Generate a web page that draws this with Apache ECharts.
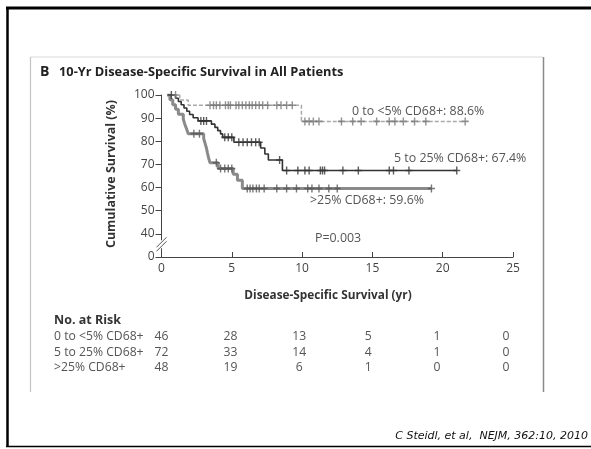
<!DOCTYPE html>
<html><head><meta charset="utf-8">
<script src="https://cdn.jsdelivr.net/npm/echarts@6/dist/echarts.min.js"></script>
<style>html,body{margin:0;padding:0;background:#fff}#c{width:591px;height:449px}</style>
</head><body><div id="c"></div>
<script>
// ---- data ----
const titleText = '10-Yr Disease-Specific Survival in All Patients';
const xTicks = [0, 5, 10, 15, 20, 25];
const yTickLabels = ['0', '40', '50', '60', '70', '80', '90', '100'];
const seriesNames = ['0 to <5% CD68+', '5 to 25% CD68+', '>25% CD68+'];
const finalLabels = ['0 to <5% CD68+: 88.6%', '5 to 25% CD68+: 67.4%', '>25% CD68+: 59.6%'];
const pValue = 'P=0.003';
// Kaplan-Meier steps [years, survival %]
const kmLow = [[0.4,100],[1.3,97.8],[1.9,95.6],[9.95,88.6],[21.6,88.6]];
const kmMid = [[0.4,100],[1.0,98.6],[1.2,97.2],[1.4,95.8],[1.6,94.4],[1.8,93.0],[2.0,91.6],[2.25,90.2],[2.6,88.8],[3.55,87.4],[3.8,86.0],[4.0,84.6],[4.2,83.2],[4.35,81.7],[5.15,79.6],[7.05,77.1],[7.35,74.5],[7.6,71.9],[8.6,67.4],[21.0,67.4]];
const kmHigh = [[0.4,100],[0.6,97.9],[0.8,95.8],[1.0,93.8],[1.2,91.7],[1.55,89.6],[1.65,87.5],[1.78,85.4],[1.9,83.3],[3.0,81.2],[3.1,79.1],[3.2,77.0],[3.27,74.9],[3.35,72.8],[3.45,70.7],[4.03,68.2],[5.1,65.8],[5.4,63.2],[5.75,59.6],[19.2,59.6]];
// censoring times (years)
const censorLow = [1.0,3.45,3.7,3.9,4.15,4.55,4.75,4.9,5.3,5.5,5.75,6.0,6.25,6.45,6.7,6.95,7.2,7.55,8.2,8.5,8.9,9.3,10.2,10.5,10.8,11.2,12.8,13.6,14.2,15.3,16.2,16.6,17.2,18.0,18.8,21.6];
const censorMid = [0.7,2.8,3.0,3.2,4.5,4.75,5.0,5.5,5.8,6.1,6.4,6.7,6.95,8.4,8.9,9.7,10.2,10.5,11.3,11.45,11.6,12.9,14.0,16.2,16.5,17.6,21.0];
const censorHigh = [2.3,2.7,3.9,4.2,4.5,4.75,5.0,6.1,6.3,6.5,6.75,6.95,7.3,8.2,8.9,9.6,10.4,10.7,11.2,11.9,12.5,19.2];
// number at risk
const riskLow = [46, 28, 13, 5, 1, 0];
const riskMid = [72, 33, 14, 4, 1, 0];
const riskHigh = [48, 19, 6, 1, 0, 0];
const citation = 'C Steidl, et al,  NEJM, 362:10, 2010';

// ---- helpers ----
const toAxis = v => v >= 40 ? v - 30 : v / 4;
const km = arr => arr.map(p => [p[0], toAxis(p[1])]);
function valueAt(arr, t) { let v = arr[0][1]; for (const p of arr) { if (p[0] <= t) v = p[1]; } return v; }
const cens = (arr, times) => times.map(t => [t, toAxis(valueAt(arr, t))]);
const plus = 'path://M4,0H6V4H10V6H6V10H4V6H0V4H4Z';
const FONT = '"Open Sans", "Noto Sans", sans-serif';
const colLow = '#a9a9a9', colMid = '#333333', colHigh = '#8a8a8a';

const chart = echarts.init(document.getElementById('c'), null, {renderer: 'canvas'});
const option = {
  animation: false,
  backgroundColor: '#fff',
  grid: {left: 161.5, right: 78, top: 95, bottom: 192},
  xAxis: {
    type: 'value', min: 0, max: 25, interval: 5,
    axisLine: {lineStyle: {color: '#444', width: 1}},
    axisTick: {inside: true, length: 5, lineStyle: {color: '#444'}},
    axisLabel: {color: '#444', fontSize: 12, fontFamily: FONT, margin: 6,
      formatter: v => xTicks.includes(v) ? String(v) : ''},
    splitLine: {show: false}
  },
  yAxis: {
    type: 'value', min: 0, max: 70, interval: 10,
    axisLine: {show: true, lineStyle: {color: '#444', width: 1}},
    axisTick: {show: true, length: 6, lineStyle: {color: '#444'}},
    axisLabel: {color: '#444', fontSize: 12, fontFamily: FONT, margin: 7,
      formatter: v => yTickLabels[Math.round(v / 10)]},
    splitLine: {show: false}
  },
  series: [
    {name: seriesNames[2], type: 'line', step: 'end', data: km(kmHigh), showSymbol: false,
     lineStyle: {color: colHigh, width: 3}, z: 2},
    {name: seriesNames[1], type: 'line', step: 'end', data: km(kmMid), showSymbol: false,
     lineStyle: {color: colMid, width: 1.6}, z: 3},
    {name: seriesNames[0], type: 'line', step: 'end', data: km(kmLow), showSymbol: false,
     lineStyle: {color: colLow, width: 1.5, type: [4, 2]}, z: 3},
    {type: 'scatter', data: cens(kmHigh, censorHigh), symbol: plus, symbolSize: [7, 8],
     itemStyle: {color: '#555'}, z: 4},
    {type: 'scatter', data: cens(kmMid, censorMid), symbol: plus, symbolSize: [7, 8],
     itemStyle: {color: colMid}, z: 4},
    {type: 'scatter', data: cens(kmLow, censorLow), symbol: plus, symbolSize: [7, 8],
     itemStyle: {color: '#777'}, z: 4}
  ]
};
chart.setOption(option);

// ---- decorations positioned from the chart's scales ----
const px = (x, y) => chart.convertToPixel({gridIndex: 0}, [x, y]);
const p0 = px(0, 0), p40 = px(0, 10);
const breakY = p0[1] - (p0[1] - p40[1]) * 0.55;
const ax = p0[0];
const g = [];
const line = (x1, y1, x2, y2, stroke, w) => g.push({type: 'line', silent: true, shape: {x1, y1, x2, y2}, style: {stroke, lineWidth: w}, z: 100});
const text = (t, x, y, opt) => g.push({type: 'text', silent: true, x, y, rotation: opt.rotation || 0, z: 100,
  style: {text: t, fill: opt.fill || '#333', font: opt.font, textAlign: opt.align || 'left', verticalAlign: 'middle'}});

// slide border
line(6, 8, 591, 8, '#000', 3);
line(7.5, 8, 7.5, 447, '#000', 2.5);
line(6, 446.5, 591, 446.5, '#000', 1.5);
// figure frame
line(30.5, 57, 543, 57, '#d8d8d8', 1);
line(30.5, 57, 30.5, 392, '#c4c4c4', 1.2);
line(543.5, 57, 543.5, 392, '#8a8a8a', 1.5);
// axis break
g.push({type: 'rect', silent: true, shape: {x: ax - 3, y: breakY - 4, width: 6, height: 8}, style: {fill: '#fff'}, z: 99});
line(ax - 5, breakY + 3, ax + 5, breakY - 7, '#555', 1);
line(ax - 5, breakY + 7, ax + 5, breakY - 3, '#555', 1);

// titles
text('B', 40, 72, {font: 'bold 14px ' + FONT, fill: '#222'});
text(titleText, 59, 72, {font: 'bold 12.8px ' + FONT, fill: '#222'});
text('Cumulative Survival (%)', 111, 174, {font: 'bold 12.5px ' + FONT, fill: '#333', align: 'center', rotation: Math.PI / 2});
text('Disease-Specific Survival (yr)', 328, 296, {font: 'bold 11.8px ' + FONT, fill: '#333', align: 'center'});

// curve labels
text(finalLabels[0], 352, 111, {font: '12.4px ' + FONT, fill: '#555'});
text(finalLabels[1], 394, 158, {font: '12.4px ' + FONT, fill: '#555'});
text(finalLabels[2], 310, 200, {font: '12.4px ' + FONT, fill: '#555'});
text(pValue, 315, 238, {font: '12.4px ' + FONT, fill: '#555'});

// number at risk table
text('No. at Risk', 54, 320, {font: 'bold 12.5px ' + FONT, fill: '#333'});
const rows = [riskLow, riskMid, riskHigh];
const rowY = [337, 352.5, 368];
rows.forEach((r, i) => {
  text(seriesNames[i], 54, rowY[i], {font: '12.2px ' + FONT, fill: '#555'});
  r.forEach((n, j) => {
    const x = px(xTicks[j], 0)[0] - j * 1.4;
    text(String(n), x, rowY[i], {font: '12.2px ' + FONT, fill: '#555', align: 'center'});
  });
});

// citation
text(citation, 588, 436, {font: 'italic 11px "Comic Sans MS", "DejaVu Sans", sans-serif', fill: '#111', align: 'right'});

chart.setOption({graphic: g});
</script>
</body></html>
